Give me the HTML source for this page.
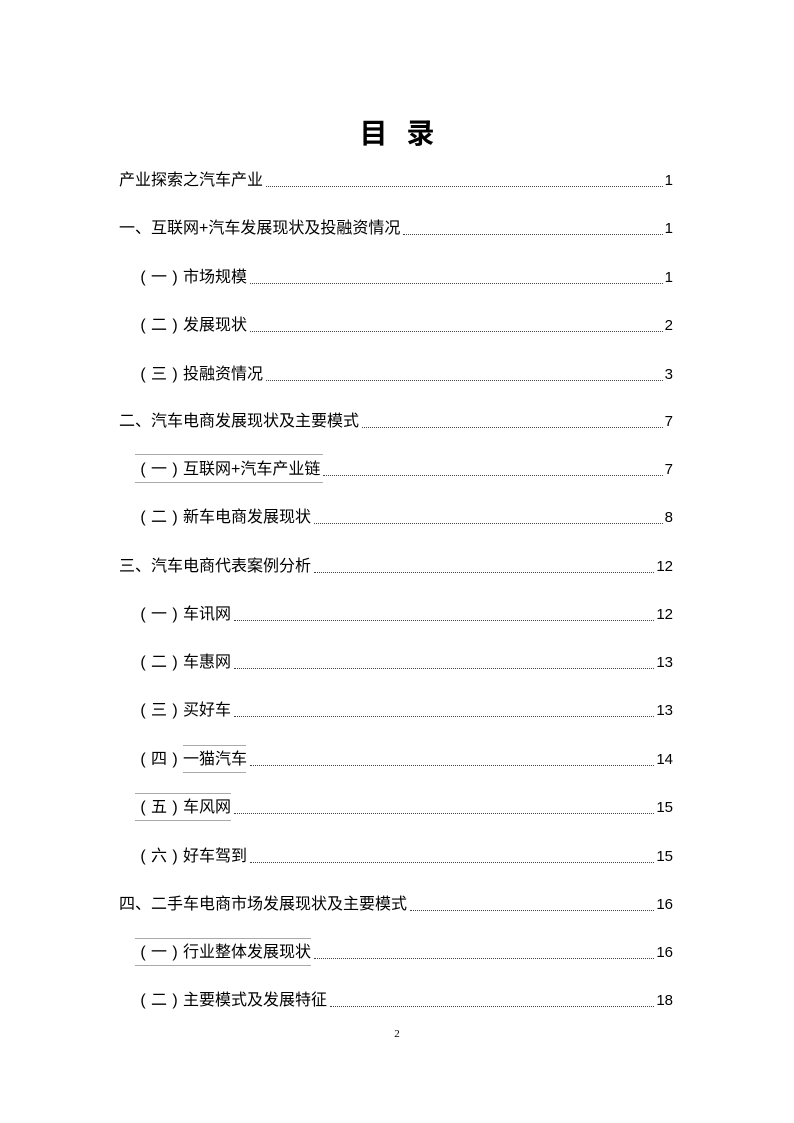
<!DOCTYPE html>
<html><head><meta charset="utf-8"><style>
body{margin:0;background:#fff;}
.page{position:relative;width:794px;height:1123px;font-family:"Liberation Sans","Noto Sans CJK SC",sans-serif;color:#000;}
.title{position:absolute;top:112px;left:0;width:794px;text-align:center;font-size:28px;font-weight:bold;}
.title span{display:inline-block;width:19px;}
.row{position:absolute;right:121px;height:22px;display:flex;align-items:flex-end;font-size:16px;line-height:22px;}
.row .t{white-space:nowrap;}
.row .t i{font-style:normal;display:inline-block;width:16px;text-align:center;}
.row .d{flex:1;border-bottom:1.5px dotted #444;margin:0 2px 5px 3px;}
.row .p{white-space:nowrap;font-size:15px;}
.ln{position:absolute;height:1px;background:#aaa;}
.pn{position:absolute;top:1028px;left:0;width:794px;text-align:center;font-size:11px;font-family:"Liberation Serif",serif;}
</style></head><body><div class="page">
<div class="title">目<span></span>录</div>
<div class="row" style="top:170px;left:119px"><span class="t">产业探索之汽车产业</span><span class="d"></span><span class="p">1</span></div>
<div class="row" style="top:218px;left:119px"><span class="t">一、互联网+汽车发展现状及投融资情况</span><span class="d"></span><span class="p">1</span></div>
<div class="row" style="top:267px;left:135px"><span class="t"><i>(</i>一<i>)</i>市场规模</span><span class="d"></span><span class="p">1</span></div>
<div class="row" style="top:315px;left:135px"><span class="t"><i>(</i>二<i>)</i>发展现状</span><span class="d"></span><span class="p">2</span></div>
<div class="row" style="top:364px;left:135px"><span class="t"><i>(</i>三<i>)</i>投融资情况</span><span class="d"></span><span class="p">3</span></div>
<div class="row" style="top:411px;left:119px"><span class="t">二、汽车电商发展现状及主要模式</span><span class="d"></span><span class="p">7</span></div>
<div class="row" style="top:459px;left:135px"><span class="t"><i>(</i>一<i>)</i>互联网+汽车产业链</span><span class="d"></span><span class="p">7</span></div>
<div class="row" style="top:507px;left:135px"><span class="t"><i>(</i>二<i>)</i>新车电商发展现状</span><span class="d"></span><span class="p">8</span></div>
<div class="row" style="top:556px;left:119px"><span class="t">三、汽车电商代表案例分析</span><span class="d"></span><span class="p">12</span></div>
<div class="row" style="top:604px;left:135px"><span class="t"><i>(</i>一<i>)</i>车讯网</span><span class="d"></span><span class="p">12</span></div>
<div class="row" style="top:652px;left:135px"><span class="t"><i>(</i>二<i>)</i>车惠网</span><span class="d"></span><span class="p">13</span></div>
<div class="row" style="top:700px;left:135px"><span class="t"><i>(</i>三<i>)</i>买好车</span><span class="d"></span><span class="p">13</span></div>
<div class="row" style="top:749px;left:135px"><span class="t"><i>(</i>四<i>)</i>一猫汽车</span><span class="d"></span><span class="p">14</span></div>
<div class="row" style="top:797px;left:135px"><span class="t"><i>(</i>五<i>)</i>车风网</span><span class="d"></span><span class="p">15</span></div>
<div class="row" style="top:846px;left:135px"><span class="t"><i>(</i>六<i>)</i>好车驾到</span><span class="d"></span><span class="p">15</span></div>
<div class="row" style="top:894px;left:119px"><span class="t">四、二手车电商市场发展现状及主要模式</span><span class="d"></span><span class="p">16</span></div>
<div class="row" style="top:942px;left:135px"><span class="t"><i>(</i>一<i>)</i>行业整体发展现状</span><span class="d"></span><span class="p">16</span></div>
<div class="row" style="top:990px;left:135px"><span class="t"><i>(</i>二<i>)</i>主要模式及发展特征</span><span class="d"></span><span class="p">18</span></div>
<div class="ln" style="top:454px;left:135px;width:188px"></div>
<div class="ln" style="top:482px;left:135px;width:188px"></div>
<div class="ln" style="top:745px;left:183px;width:63px"></div>
<div class="ln" style="top:772px;left:183px;width:63px"></div>
<div class="ln" style="top:793px;left:135px;width:96px"></div>
<div class="ln" style="top:820px;left:135px;width:96px"></div>
<div class="ln" style="top:938px;left:135px;width:176px"></div>
<div class="ln" style="top:965px;left:135px;width:176px"></div>
<div class="pn">2</div>
</div></body></html>
